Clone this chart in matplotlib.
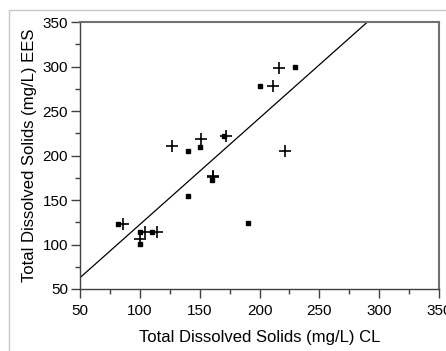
import matplotlib
matplotlib.use("Agg")
import matplotlib.pyplot as plt
import numpy as np
from matplotlib.patches import Rectangle
from matplotlib.ticker import MultipleLocator

plt.rcParams['font.family'] = ['Liberation Sans', 'DejaVu Sans']

# data
sq_x = [81.5, 100, 100.5, 110.5, 140.5, 140.5, 150, 160.5, 170, 190, 200, 230]
sq_y = [123, 114.5, 101, 114.5, 154.5, 205, 210, 173, 222, 124.5, 278, 300]

plus_x = [86, 104.5, 114.5, 100.5, 127, 151, 161, 161, 172, 211, 216, 221]
plus_y = [123, 114.5, 114.5, 106, 211, 218, 175.5, 177, 222, 278, 298.5, 205]

fit_slope = 1.196
fit_icept = 2.9

fig = plt.figure(figsize=(4.46, 3.51), dpi=100)
ax = fig.add_axes([80/446, 1-289/351, 359/446, 267/351])

# light grey frame around the figure
fig.patches.append(Rectangle((9/446, -0.1), 1.2, 1-10/351+0.1, transform=fig.transFigure,
                             fill=False, edgecolor='#c8c8c8', lw=1.0, clip_on=False))

xl = np.array([50, 350])
ax.plot(xl, fit_icept + fit_slope*xl, color='black', lw=0.9)
ax.plot(sq_x, sq_y, 's', color='black', ms=3.3, ls='none')
ax.plot(plus_x, plus_y, '+', color='black', ms=9, mew=1.2, ls='none')

ax.set_xlim(50, 350)
ax.set_ylim(50, 350)
ax.xaxis.set_major_locator(MultipleLocator(50))
ax.yaxis.set_major_locator(MultipleLocator(50))
ax.xaxis.set_minor_locator(MultipleLocator(25))
ax.yaxis.set_minor_locator(MultipleLocator(25))
ax.tick_params(which='major', length=6.5, width=1, color='#404040', labelsize=11, pad=2)
ax.tick_params(axis='x', which='major', pad=4)
ax.tick_params(which='minor', length=3.6, width=1, color='#404040')

for s in ['left', 'bottom']:
    ax.spines[s].set_color('#404040')
    ax.spines[s].set_linewidth(1.0)
for s in ['top', 'right']:
    ax.spines[s].set_color('#707070')
    ax.spines[s].set_linewidth(1.5)

ax.set_xlabel('Total Dissolved Solids (mg/L) CL', fontsize=12, labelpad=9)
ax.set_ylabel('Total Dissolved Solids (mg/L) EES', fontsize=12, labelpad=4)

fig.savefig('out.png', dpi=100)
